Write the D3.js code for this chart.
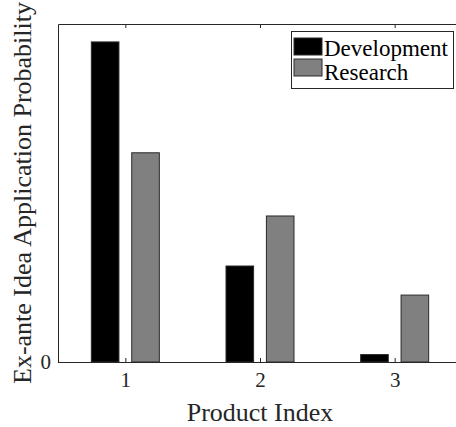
<!DOCTYPE html>
<html>
<head>
<meta charset="utf-8">
<script src="https://cdn.jsdelivr.net/npm/d3@7"></script>
<style>
  html, body { margin: 0; padding: 0; background: #fff; }
  svg { display: block; }
  svg text { font-family: "Liberation Serif", "Times New Roman", serif; }
</style>
</head>
<body>
<svg id="chart"></svg>
<script>
const width = 456;
const height = 427;
const serif = "'Liberation Serif', 'Times New Roman', serif";

// data (y axis has no scale, only the 0 tick)
const products = [1, 2, 3];
const series = ["Development", "Research"];
const development = [0.947, 0.284, 0.022];
const research = [0.619, 0.432, 0.198];
const seriesColors = ["#000000", "#808080"];

const plotLeft = 58;
const plotRight = 462;
const plotTop = 24;
const plotBottom = 362;

const svg = d3.select("#chart").attr("width", width).attr("height", height);

const x = d3.scaleLinear().domain([0.5, 3.5]).range([plotLeft, plotRight]);
const y = d3.scaleLinear().domain([0, 1]).range([plotBottom, plotTop]);

const barOffset = 0.15;
const barWidth = x(0.205) - x(0);

const values = [development, research];

const barGroup = svg.append("g").attr("class", "bars");
series.forEach((name, si) => {
  barGroup
    .selectAll("rect.s" + si)
    .data(products)
    .enter()
    .append("rect")
    .attr("class", "s" + si)
    .attr("x", (d) => x(d + (si === 0 ? -barOffset : barOffset)) - barWidth / 2)
    .attr("width", barWidth)
    .attr("y", (d, i) => y(values[si][i]))
    .attr("height", (d, i) => y(0) - y(values[si][i]))
    .attr("fill", seriesColors[si])
    .attr("stroke", "#2a2a2a")
    .attr("stroke-width", 1);
});

// axes, MATLAB style: inward ticks, box on
const axisColor = "#262626";

const xAxis = d3.axisBottom(x).tickValues(products).tickSizeInner(-4).tickSizeOuter(0).tickPadding(10).tickFormat(d3.format("d"));
const gx = svg.append("g").attr("transform", `translate(0,${plotBottom})`).call(xAxis);
gx.attr("font-family", serif);
gx.select(".domain").attr("stroke", axisColor);
gx.selectAll(".tick line").attr("stroke", axisColor);
gx.selectAll(".tick text")
  .attr("fill", axisColor)
  .attr("font-size", 21)
  .attr("font-family", serif);

const xTop = d3.axisTop(x).tickValues(products).tickSizeInner(-4).tickSizeOuter(0).tickFormat("");
const gxt = svg.append("g").attr("transform", `translate(0,${plotTop})`).call(xTop);
gxt.select(".domain").attr("stroke", axisColor);
gxt.selectAll(".tick line").attr("stroke", axisColor);

const yAxis = d3.axisLeft(y).tickValues([0]).tickSizeInner(-4).tickSizeOuter(0).tickPadding(7).tickFormat(d3.format("d"));
const gy = svg.append("g").attr("transform", `translate(${plotLeft},0)`).call(yAxis);
gy.attr("font-family", serif);
gy.select(".domain").attr("stroke", axisColor);
gy.selectAll(".tick line").attr("stroke", axisColor);
gy.selectAll(".tick text")
  .attr("fill", axisColor)
  .attr("font-size", 21)
  .attr("font-family", serif);

svg.append("line")
  .attr("x1", plotRight).attr("x2", plotRight)
  .attr("y1", plotTop).attr("y2", plotBottom)
  .attr("stroke", axisColor);

// labels
svg.append("text")
  .attr("x", (plotLeft + plotRight) / 2)
  .attr("y", 421)
  .attr("text-anchor", "middle")
  .attr("font-family", serif)
  .attr("font-size", 26)
  .attr("fill", axisColor)
  .text("Product Index");

svg.append("text")
  .attr("transform", `translate(31,${(plotTop + plotBottom) / 2}) rotate(-90)`)
  .attr("text-anchor", "middle")
  .attr("font-family", serif)
  .attr("font-size", 26)
  .attr("fill", axisColor)
  .text("Ex-ante Idea Application Probability");

// legend
const legend = svg.append("g").attr("class", "legend");
legend.append("rect")
  .attr("x", 291.5).attr("y", 31.5)
  .attr("width", 162).attr("height", 57)
  .attr("fill", "#fff")
  .attr("stroke", axisColor);

series.forEach((name, i) => {
  legend.append("rect")
    .attr("x", 294)
    .attr("y", 38 + i * 21)
    .attr("width", 28).attr("height", 17)
    .attr("fill", seriesColors[i])
    .attr("stroke", "#2a2a2a");
  legend.append("text")
    .attr("x", 324)
    .attr("y", 55.5 + i * 24)
    .attr("font-family", serif)
    .attr("font-size", 23)
    .attr("fill", "#000")
    .text(name);
});
</script>
</body>
</html>
